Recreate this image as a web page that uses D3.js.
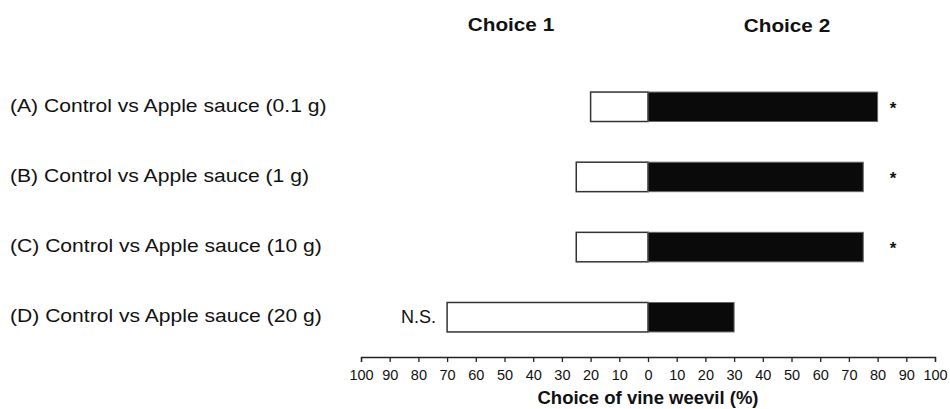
<!DOCTYPE html>
<html>
<head>
<meta charset="utf-8">
<script src="https://cdn.jsdelivr.net/npm/d3@7"></script>
<style>
  html, body { margin: 0; padding: 0; background: #fff; }
  svg { display: block; font-family: "Liberation Sans", Arial, sans-serif; }
</style>
</head>
<body>
<svg id="chart" width="950" height="409"></svg>
<script>
// Two-choice preference test: share of weevils choosing each option (%)
const comparisons = [
  "(A) Control vs Apple sauce (0.1 g)",
  "(B) Control vs Apple sauce (1 g)",
  "(C) Control vs Apple sauce (10 g)",
  "(D) Control vs Apple sauce (20 g)"
];
const choice1 = [20, 25, 25, 70];   // Control (drawn to the left)
const choice2 = [80, 75, 75, 30];   // Apple sauce (drawn to the right)
const significance = ["*", "*", "*", "N.S."];
const tickValues = [-100, -90, -80, -70, -60, -50, -40, -30, -20, -10, 0,
                    10, 20, 30, 40, 50, 60, 70, 80, 90, 100];

const svg = d3.select("#chart");

const x = d3.scaleLinear().domain([-100, 100]).range([361, 935]);
const y = d3.scaleBand().domain(comparisons).range([67.5, 356.5]).paddingInner(0.58).paddingOuter(0.35);

const rows = comparisons.map((c, i) => ({
  name: c, left: choice1[i], right: choice2[i], sig: significance[i]
}));

// Widen a text element horizontally by a factor (wide typesetting)
function widen(sel, factor) {
  sel.each(function () {
    const w = this.getComputedTextLength();
    d3.select(this).attr("textLength", w * factor).attr("lengthAdjust", "spacingAndGlyphs");
  });
}

// Column headings
svg.append("text").attr("x", 511).attr("y", 31).attr("text-anchor", "middle")
  .attr("font-size", 18.5).attr("font-weight", "bold").attr("fill", "#111")
  .text("Choice 1").call(widen, 1.12);
svg.append("text").attr("x", 787).attr("y", 32).attr("text-anchor", "middle")
  .attr("font-size", 18.5).attr("font-weight", "bold").attr("fill", "#111")
  .text("Choice 2").call(widen, 1.12);

// Row labels
svg.append("g").selectAll("text").data(rows).join("text")
  .attr("x", 10)
  .attr("y", d => y(d.name) + y.bandwidth() / 2 + 5)
  .attr("font-size", 19)
  .attr("fill", "#111")
  .text(d => d.name)
  .call(widen, 1.11);

// Choice 1 bars (white)
svg.append("g").selectAll("rect").data(rows).join("rect")
  .attr("x", d => x(-d.left))
  .attr("y", d => y(d.name))
  .attr("width", d => x(0) - x(-d.left))
  .attr("height", y.bandwidth())
  .attr("fill", "#fff")
  .attr("stroke", "#333")
  .attr("stroke-width", 1.5);

// Choice 2 bars (black)
svg.append("g").selectAll("rect").data(rows).join("rect")
  .attr("x", x(0))
  .attr("y", d => y(d.name))
  .attr("width", d => x(d.right) - x(0))
  .attr("height", y.bandwidth())
  .attr("fill", "#0a0a0a")
  .attr("stroke", "#666")
  .attr("stroke-width", 1);

// Significance markers: asterisks in a column right of the bars, N.S. left of the bar
const starX = 893;
svg.append("g").selectAll("text").data(rows).join("text")
  .attr("x", d => d.sig === "N.S." ? x(-d.left) - 11 : starX)
  .attr("y", d => y(d.name) + y.bandwidth() / 2 + (d.sig === "*" ? 7 : 6))
  .attr("text-anchor", d => d.sig === "N.S." ? "end" : "middle")
  .attr("font-size", d => d.sig === "*" ? 17 : 18)
  .attr("font-weight", d => d.sig === "*" ? "bold" : "normal")
  .attr("fill", "#111")
  .text(d => d.sig);

// Bottom axis with mirrored percentages
const axis = d3.axisBottom(x)
  .tickValues(tickValues)
  .tickFormat(v => Math.abs(v))
  .tickSizeInner(5)
  .tickSizeOuter(5)
  .tickPadding(8);

const gx = svg.append("g").attr("transform", "translate(0,357)").call(axis);
gx.select(".domain").attr("stroke", "#222").attr("stroke-width", 1.3);
gx.selectAll(".tick line").attr("stroke", "#222").attr("stroke-width", 1.3);
gx.selectAll(".tick text").attr("font-size", 14.5).attr("fill", "#111")
  .attr("font-family", "Liberation Sans, Arial, sans-serif");

svg.append("text").attr("x", x(0)).attr("y", 404).attr("text-anchor", "middle")
  .attr("font-size", 18.5).attr("font-weight", "bold").attr("fill", "#111")
  .text("Choice of vine weevil (%)");
</script>
</body>
</html>
